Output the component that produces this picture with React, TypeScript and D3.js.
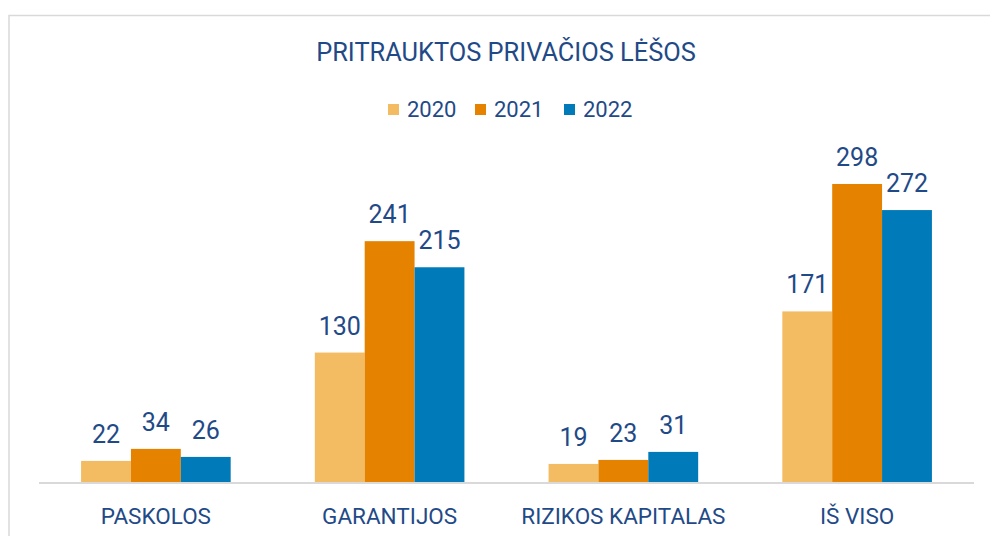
import React from "react";
import * as d3 from "d3";

const categories = ["PASKOLOS", "GARANTIJOS", "RIZIKOS KAPITALAS", "IŠ VISO"];
const seriesNames = ["2020", "2021", "2022"];
const values2020 = [22, 130, 19, 171];
const values2021 = [34, 241, 23, 298];
const values2022 = [26, 215, 31, 272];
const colors = ["#F3BC63", "#E58300", "#007AB8"];
const title = "PRITRAUKTOS PRIVAČIOS LĖŠOS";

const W = 990;
const H = 536;
const textColor = "#1F4A87";
const font = "Roboto, 'Noto Sans', sans-serif";

export default function App() {
  const series = [values2020, values2021, values2022];
  const x0 = d3.scaleBand<string>().domain(categories).range([39, 974]).paddingInner(0).paddingOuter(0);
  const groupW = x0.bandwidth() * 0.64;
  const x1 = d3.scaleBand<string>().domain(seriesNames).range([0, groupW]).padding(0);
  const y = d3.scaleLinear().domain([0, 350]).range([483, 483 - 351.2]);
  const legendX = [388, 475, 564];

  return (
    <div style={{ position: "absolute", left: 0, top: 0 }}>
      <svg width={W} height={H} style={{ display: "block", background: "#fff" }}>
        <rect x={9} y={15.5} width={1000} height={600} fill="#fff" stroke="#D9D9D9" strokeWidth={1.5} />
        <text x={506} y={61} textAnchor="middle" fill={textColor} fontFamily={font} fontSize={25.4}>
          {title}
        </text>
        {seriesNames.map((s, i) => (
          <g key={s}>
            <rect x={legendX[i]} y={104} width={11} height={11} fill={colors[i]} />
            <text x={legendX[i] + 19} y={117} fill={textColor} fontFamily={font} fontSize={22}>
              {s}
            </text>
          </g>
        ))}
        {categories.map((c, ci) => {
          const gx = (x0(c) as number) + (x0.bandwidth() - groupW) / 2;
          return (
            <g key={c}>
              {series.map((vals, si) => {
                const bx = gx + (x1(seriesNames[si]) as number);
                const by = y(vals[ci]);
                return (
                  <g key={si}>
                    <rect x={bx} y={by} width={x1.bandwidth()} height={y(0) - by} fill={colors[si]} />
                    <text
                      x={bx + x1.bandwidth() / 2}
                      y={by - 18}
                      textAnchor="middle"
                      fill={textColor}
                      fontFamily={font}
                      fontSize={25}
                    >
                      {vals[ci]}
                    </text>
                  </g>
                );
              })}
              <text
                x={(x0(c) as number) + x0.bandwidth() / 2}
                y={524}
                textAnchor="middle"
                fill={textColor}
                fontFamily={font}
                fontSize={22.5}
              >
                {c}
              </text>
            </g>
          );
        })}
        <line x1={39} x2={974} y1={483} y2={483} stroke="#D9D9D9" strokeWidth={2} />
      </svg>
    </div>
  );
}
